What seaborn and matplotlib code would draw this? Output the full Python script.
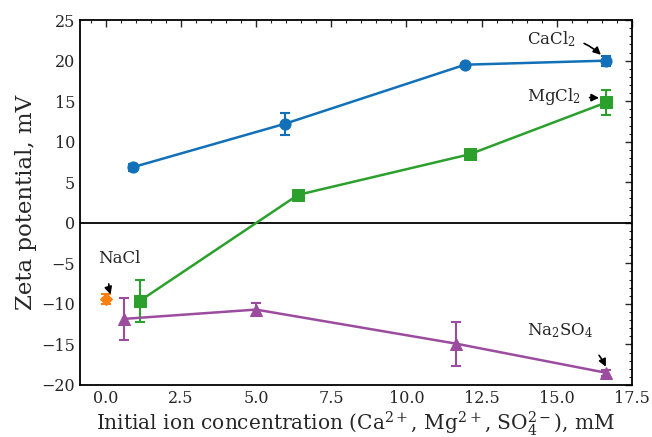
import matplotlib
matplotlib.use("Agg")
import matplotlib.pyplot as plt
import seaborn as sns
import pandas as pd
from matplotlib.ticker import AutoMinorLocator

# Data
cacl2_x = [0.9, 5.95, 11.95, 16.65]
cacl2_y = [6.85, 12.2, 19.5, 20.0]
cacl2_err = [0.4, 1.4, 0.0, 0.6]

mgcl2_x = [1.15, 6.4, 12.1, 16.65]
mgcl2_y = [-9.6, 3.45, 8.45, 14.85]
mgcl2_err = [2.6, 0.0, 0.0, 1.5]

nacl_x = [0.0]
nacl_y = [-9.4]
nacl_err = [0.6]

na2so4_x = [0.6, 5.0, 11.65, 16.65]
na2so4_y = [-11.85, -10.7, -14.9, -18.5]
na2so4_err = [2.55, 0.85, 2.7, 0.35]

x_ticks = [0, 2.5, 5, 7.5, 10, 12.5, 15, 17.5]
x_tick_labels = ['0.0', '2.5', '5.0', '7.5', '10.0', '12.5', '15.0', '17.5']
y_ticks = [-20, -15, -10, -5, 0, 5, 10, 15, 20, 25]

sns.set_style("white")
plt.rcParams['font.family'] = ['DejaVu Serif']
plt.rcParams['mathtext.fontset'] = 'dejavuserif'

fig = plt.figure(figsize=(6.52, 4.37), dpi=100)
ax = fig.add_axes([0.1227, 0.119, 0.8466, 0.835])

ax.axhline(0, color='black', lw=1.3, zorder=1)

series = [
    ("CaCl2", cacl2_x, cacl2_y, cacl2_err, '#1170b8', 'o', 8),
    ("MgCl2", mgcl2_x, mgcl2_y, mgcl2_err, '#2ca02c', 's', 8),
    ("NaCl", nacl_x, nacl_y, nacl_err, '#ff7f0e', 'D', 6),
    ("Na2SO4", na2so4_x, na2so4_y, na2so4_err, '#9b4c9f', '^', 8.5),
]

for name, xs, ys, es, c, m, ms in series:
    df = pd.DataFrame({"x": xs, "y": ys})
    sns.lineplot(data=df, x="x", y="y", ax=ax, color=c, marker=m, markersize=ms,
                 markeredgecolor=c, lw=1.8, sort=False, zorder=3)
    ax.errorbar(xs, ys, yerr=es, fmt='none', ecolor=c, elinewidth=1.5, capsize=3.8,
                capthick=1.5, zorder=2)

ax.set_xlim(-0.85, 17.5)
ax.set_ylim(-20, 25)
ax.set_xticks(x_ticks)
ax.set_xticklabels(x_tick_labels)
ax.set_yticks(y_ticks)
ax.xaxis.set_minor_locator(AutoMinorLocator(5))
ax.yaxis.set_minor_locator(AutoMinorLocator(5))
ax.tick_params(which='both', direction='in', top=True, right=True, labelsize=11.5)
ax.tick_params(which='major', length=5, width=1)
ax.tick_params(which='minor', length=2.5, width=0.8)
for s in ax.spines.values():
    s.set_color('black')
    s.set_linewidth(1.3)

ax.set_xlabel(r"Initial ion concentration (Ca$^{2+}$, Mg$^{2+}$, SO$_4^{2-}$), mM",
              fontsize=14.5, labelpad=2)
ax.set_ylabel("Zeta potential, mV", fontsize=16.5, labelpad=3)

arrow = dict(arrowstyle='-|>', color='black', lw=1.2, mutation_scale=11)
ax.annotate(r"CaCl$_2$", xy=(16.5, 20.6), xytext=(14.0, 22.6), fontsize=12, va='center',
            arrowprops=dict(connectionstyle='arc3,rad=-0.25', shrinkA=4, shrinkB=1, **arrow))
ax.annotate(r"MgCl$_2$", xy=(16.45, 15.4), xytext=(14.0, 15.6), fontsize=12, va='center',
            arrowprops=dict(connectionstyle='arc3,rad=0', shrinkA=4, shrinkB=1, **arrow))
ax.annotate("NaCl", xy=(0.18, -9.0), xytext=(-0.25, -4.4), fontsize=12, va='center',
            arrowprops=dict(connectionstyle='arc3,rad=0.3', shrinkA=10, shrinkB=1, **arrow))
ax.annotate(r"Na$_2$SO$_4$", xy=(16.65, -17.9), xytext=(14.0, -13.3), fontsize=12, va='center',
            arrowprops=dict(connectionstyle='arc3,rad=-0.25', shrinkA=12, shrinkB=1, **arrow))

fig.savefig("out.png", dpi=100)
